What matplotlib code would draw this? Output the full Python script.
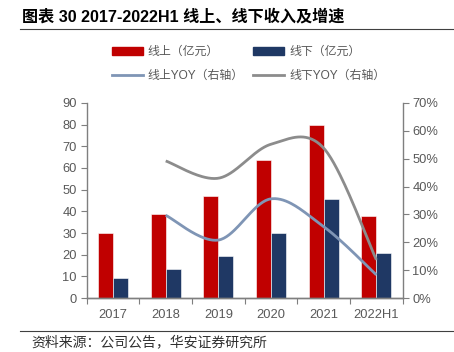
import numpy as np
import matplotlib
matplotlib.use("Agg")
import matplotlib.pyplot as plt
from matplotlib.lines import Line2D
from matplotlib.patches import Patch
from matplotlib.ticker import MultipleLocator, PercentFormatter

plt.rcParams['font.family'] = ['Liberation Sans', 'Noto Sans CJK SC', 'DejaVu Sans']

# data
years = ['2017', '2018', '2019', '2020', '2021', '2022H1']
online = [30, 38.8, 47, 63.7, 80, 37.8]
offline = [9.1, 13.4, 19.2, 29.8, 45.7, 20.9]
yoy_years = ['2018', '2019', '2020', '2021', '2022H1']
online_yoy = [29.7, 20.8, 35.6, 25.6, 8.3]
offline_yoy = [49.2, 43.0, 55.2, 53.8, 13.7]

RED = '#C00000'
NAVY = '#1F3864'
BLUEGREY = '#7F95B5'
GREY = '#8C8C8C'
AXIS = '#7F7F7F'
TXT = '#595959'


def smooth(x, y, n=40):
    # catmull-rom curve through the points, like Excel's smoothed lines
    x = np.asarray(x, float)
    y = np.asarray(y, float)
    px = np.concatenate([[x[0]], x, [x[-1]]])
    py = np.concatenate([[y[0]], y, [y[-1]]])
    xs, ys = [], []
    t = np.linspace(0, 1, n)
    for i in range(1, len(px) - 2):
        for p, out in ((px, xs), (py, ys)):
            p0, p1, p2, p3 = p[i - 1], p[i], p[i + 1], p[i + 2]
            out.extend(0.5 * (2 * p1 + (-p0 + p2) * t
                              + (2 * p0 - 5 * p1 + 4 * p2 - p3) * t ** 2
                              + (-p0 + 3 * p1 - 3 * p2 + p3) * t ** 3))
    return np.array(xs), np.array(ys)


fig = plt.figure(figsize=(4.54, 3.52), dpi=100)
ax = fig.add_axes([0.191, 0.1534, 0.696, 0.554])

x = np.arange(len(years))
w = 0.285
ax.bar(x - w / 2, online, w, color=RED, edgecolor='white', linewidth=0.4, zorder=2)
ax.bar(x + w / 2, offline, w, color=NAVY, edgecolor='white', linewidth=0.4, zorder=2)

ax.set_xlim(-0.5, len(years) - 0.5)
ax.set_ylim(0, 90)
ax.yaxis.set_major_locator(MultipleLocator(10))
ax.set_xticks(x)
ax.set_xticklabels(years)
ax.set_xticks(np.arange(-0.5, len(years)), minor=True)
ax.tick_params(axis='x', which='major', length=0, pad=8, labelsize=9.3, labelcolor=TXT)
ax.tick_params(axis='x', which='minor', length=4, width=0.8, color=AXIS, direction='out')
ax.tick_params(axis='y', length=4, width=0.8, color=AXIS, labelsize=9.3, labelcolor=TXT, pad=3)

ax2 = ax.twinx()
ax2.set_ylim(0, 70)
ax2.yaxis.set_major_locator(MultipleLocator(10))
ax2.yaxis.set_major_formatter(PercentFormatter(decimals=0))
ax2.tick_params(axis='y', length=4, width=0.8, color=AXIS, labelsize=9.3, labelcolor=TXT, pad=3)

xi = [years.index(y) for y in yoy_years]
sx, sy = smooth(xi, online_yoy)
ax2.plot(sx, sy, color=BLUEGREY, lw=2, solid_capstyle='butt')
sx, sy = smooth(xi, offline_yoy)
ax2.plot(sx, sy, color=GREY, lw=2, solid_capstyle='butt')

for a in (ax, ax2):
    a.spines['top'].set_visible(False)
    for s in ('left', 'right', 'bottom'):
        a.spines[s].set_color(AXIS)
        a.spines[s].set_linewidth(1)
ax.spines['right'].set_visible(False)
ax2.spines['left'].set_visible(False)

handles = [Patch(color=RED), Line2D([], [], color=BLUEGREY, lw=2),
           Patch(color=NAVY), Line2D([], [], color=GREY, lw=2)]
labels = ['线上（亿元）', '线上YOY（右轴）', '线下（亿元）', '线下YOY（右轴）']
leg = fig.legend(handles, labels, ncol=2, loc='center', bbox_to_anchor=(0.547, 0.818),
                 frameon=False, fontsize=8.6, handlelength=2.6, handleheight=0.6,
                 handletextpad=0.4, columnspacing=0.8, labelspacing=1.0, borderpad=0)
for t in leg.get_texts():
    t.set_color(TXT)

fig.text(0.048, 0.952, '图表 30 2017-2022H1 线上、线下收入及增速', fontsize=11.6,
         fontweight='bold', color='black', va='center', ha='left')
fig.add_artist(Line2D([0.044, 1.0], [0.917, 0.917], color='#404040', lw=0.8))
fig.add_artist(Line2D([0.044, 1.0], [0.06, 0.06], color='#404040', lw=0.8))
fig.text(0.07, 0.029, '资料来源：公司公告，华安证券研究所', fontsize=10, color='#303030',
         va='center', ha='left')

fig.savefig('out.png', dpi=100)
